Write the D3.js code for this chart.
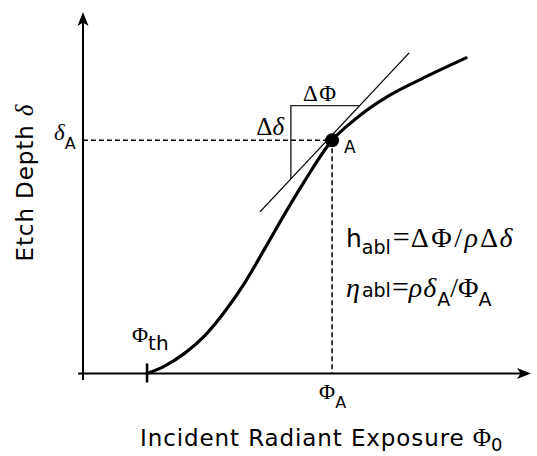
<!DOCTYPE html>
<html>
<head>
<meta charset="utf-8">
<script src="https://cdn.jsdelivr.net/npm/d3@7"></script>
<style>
  body { margin: 0; background: #fff; }
  svg { display: block; }
  .sans { font-family: "DejaVu Sans", sans-serif; }
  .serif { font-family: "Liberation Serif", "Times New Roman", serif; }
</style>
</head>
<body>
<svg id="chart" width="537" height="456"></svg>
<script>
// Schematic ablation curve: etch depth vs. incident radiant exposure
const exposure = [14.3, 18.3, 22.8, 27.2, 31.7, 36.2, 40.6, 45.1, 49.6, 55.6, 58.5, 61.8, 68.5, 75.9, 85.5];
const depth    = [0.0, 2.1, 5.7, 10.5, 17.2, 25.3, 34.6, 44.3, 53.5, 64.5, 68.0, 71.4, 77.0, 81.7, 87.3];
const thresholdExposure = 14.3;   // Φth
const pointA = [55.6, 64.5];      // [ΦA, δA]
const tangentX = [39.5, 72.8];    // tangent line through A
const tangentY = [44.7, 88.7];
const legX = 46.4;                // vertical leg (Δδ) of the slope triangle
const legY = 74.1;                // horizontal leg (ΔΦ) of the slope triangle

const svg = d3.select("#chart");
const x = d3.scaleLinear().domain([0, 100]).range([83, 531]);
const y = d3.scaleLinear().domain([0, 100]).range([373.5, 12]);

// tangent as a function of exposure
const tSlope = (tangentY[1] - tangentY[0]) / (tangentX[1] - tangentX[0]);
const tanY = v => tangentY[0] + (v - tangentX[0]) * tSlope;
const tanX = d => tangentX[0] + (d - tangentY[0]) / tSlope;

// axes
const axisG = svg.append("g").attr("stroke", "#000").attr("stroke-width", 2).attr("fill", "none");
axisG.append("line").attr("x1", x(-1.1)).attr("x2", x(100) - 8).attr("y1", y(0)).attr("y2", y(0));
axisG.append("line").attr("x1", x(0)).attr("x2", x(0)).attr("y1", y(-1.8)).attr("y2", y(100) + 8);

function arrowHead(tx, ty, angle) {
  svg.append("path")
    .attr("d", "M0,0 L-14,-5.5 L-10.5,0 L-14,5.5 Z")
    .attr("fill", "#000")
    .attr("transform", `translate(${tx},${ty}) rotate(${angle})`);
}
arrowHead(x(100), y(0), 0);
arrowHead(x(0), y(100), -90);

// threshold tick
svg.append("line")
  .attr("x1", x(thresholdExposure)).attr("x2", x(thresholdExposure))
  .attr("y1", y(0) - 10).attr("y2", y(0) + 9)
  .attr("stroke", "#000").attr("stroke-width", 2.6);

// dashed guides to A
const dashG = svg.append("g").attr("stroke", "#000").attr("stroke-width", 1.5)
  .attr("stroke-dasharray", "5,3").attr("fill", "none");
dashG.append("line").attr("x1", x(0)).attr("x2", x(pointA[0])).attr("y1", y(pointA[1])).attr("y2", y(pointA[1]));
dashG.append("line").attr("x1", x(pointA[0])).attr("x2", x(pointA[0])).attr("y1", y(pointA[1])).attr("y2", y(0));

// slope triangle
svg.append("path")
  .attr("d", `M${x(legX)},${y(tanY(legX))} L${x(legX)},${y(legY)} L${x(tanX(legY))},${y(legY)}`)
  .attr("fill", "none").attr("stroke", "#222").attr("stroke-width", 1.4);

// tangent line
svg.append("line")
  .attr("x1", x(tangentX[0])).attr("y1", y(tangentY[0]))
  .attr("x2", x(tangentX[1])).attr("y2", y(tangentY[1]))
  .attr("stroke", "#000").attr("stroke-width", 1.3);

// ablation curve
const pts = exposure.map((e, i) => [e, depth[i]]);
svg.append("path")
  .datum(pts)
  .attr("d", d3.line().x(d => x(d[0])).y(d => y(d[1])).curve(d3.curveMonotoneX))
  .attr("fill", "none").attr("stroke", "#000").attr("stroke-width", 3.2)
  .attr("stroke-linecap", "round");

// point A
svg.append("circle").attr("cx", x(pointA[0])).attr("cy", y(pointA[1])).attr("r", 7).attr("fill", "#000");

// ---- text ----
function label(px, py, parts, anchor) {
  const t = svg.append("text").attr("x", px).attr("y", py).attr("text-anchor", anchor || "start");
  parts.forEach(p => {
    const s = t.append("tspan").attr("class", p.cls).attr("font-size", p.size).text(p.text);
    if (p.italic) s.attr("font-style", "italic");
    if (p.dy) s.attr("dy", p.dy);
    if (p.dx) s.attr("dx", p.dx);
    if (p.ls) s.attr("letter-spacing", p.ls);
  });
  return t;
}

// axis titles
label(140, 446, [
  { text: "Incident Radiant Exposure ", cls: "sans", size: 23, ls: 0.9 },
  { text: "Φ", cls: "serif", size: 25 },
  { text: "0", cls: "sans", size: 18, dy: 5 }
]);
label(0, 0, [
  { text: "Etch Depth ", cls: "sans", size: 23, ls: 0.9 },
  { text: "δ", cls: "serif", size: 25, italic: true }
], "middle").attr("transform", "translate(32.5,183) rotate(-90)");

// axis markers
label(132, 342, [
  { text: "Φ", cls: "serif", size: 22 },
  { text: "th", cls: "sans", size: 20, dy: 8 }
]);
label(x(pointA[0]) - 13, 399, [
  { text: "Φ", cls: "serif", size: 22 },
  { text: "A", cls: "sans", size: 16, dy: 9 }
]);
label(54, y(pointA[1]) - 0.5, [
  { text: "δ", cls: "serif", size: 23, italic: true },
  { text: "A", cls: "sans", size: 16, dy: 9 }
]);

// slope triangle labels and point label
label(303, 101, [{ text: "ΔΦ", cls: "serif", size: 23, ls: 1.5 }]);
label(284, 135, [
  { text: "Δ", cls: "serif", size: 25 },
  { text: "δ", cls: "serif", size: 25, italic: true }
], "end");
label(344, 153, [{ text: "A", cls: "sans", size: 17 }]);

// formulas
label(346, 247, [
  { text: "h", cls: "sans", size: 25 },
  { text: "abl", cls: "sans", size: 19, dy: 7 },
  { text: "=", cls: "serif", size: 30, dy: -7, dx: 2 },
  { text: "ΔΦ/", cls: "serif", size: 28, ls: 2.5, dx: 1 },
  { text: "ρ", cls: "serif", size: 28, italic: true, ls: 2 },
  { text: "Δ", cls: "serif", size: 28, ls: 1.5 },
  { text: "δ", cls: "serif", size: 28, italic: true }
]);
label(346, 297, [
  { text: "η", cls: "serif", size: 28, italic: true },
  { text: "abl", cls: "sans", size: 19, dx: 2 },
  { text: "=", cls: "serif", size: 30, dx: 1 },
  { text: "ρδ", cls: "serif", size: 28, italic: true, ls: 1 },
  { text: "A", cls: "sans", size: 19, dy: 9 },
  { text: "/", cls: "serif", size: 28, dy: -9 },
  { text: "Φ", cls: "serif", size: 28 },
  { text: "A", cls: "sans", size: 19, dy: 9 }
]);
</script>
</body>
</html>
